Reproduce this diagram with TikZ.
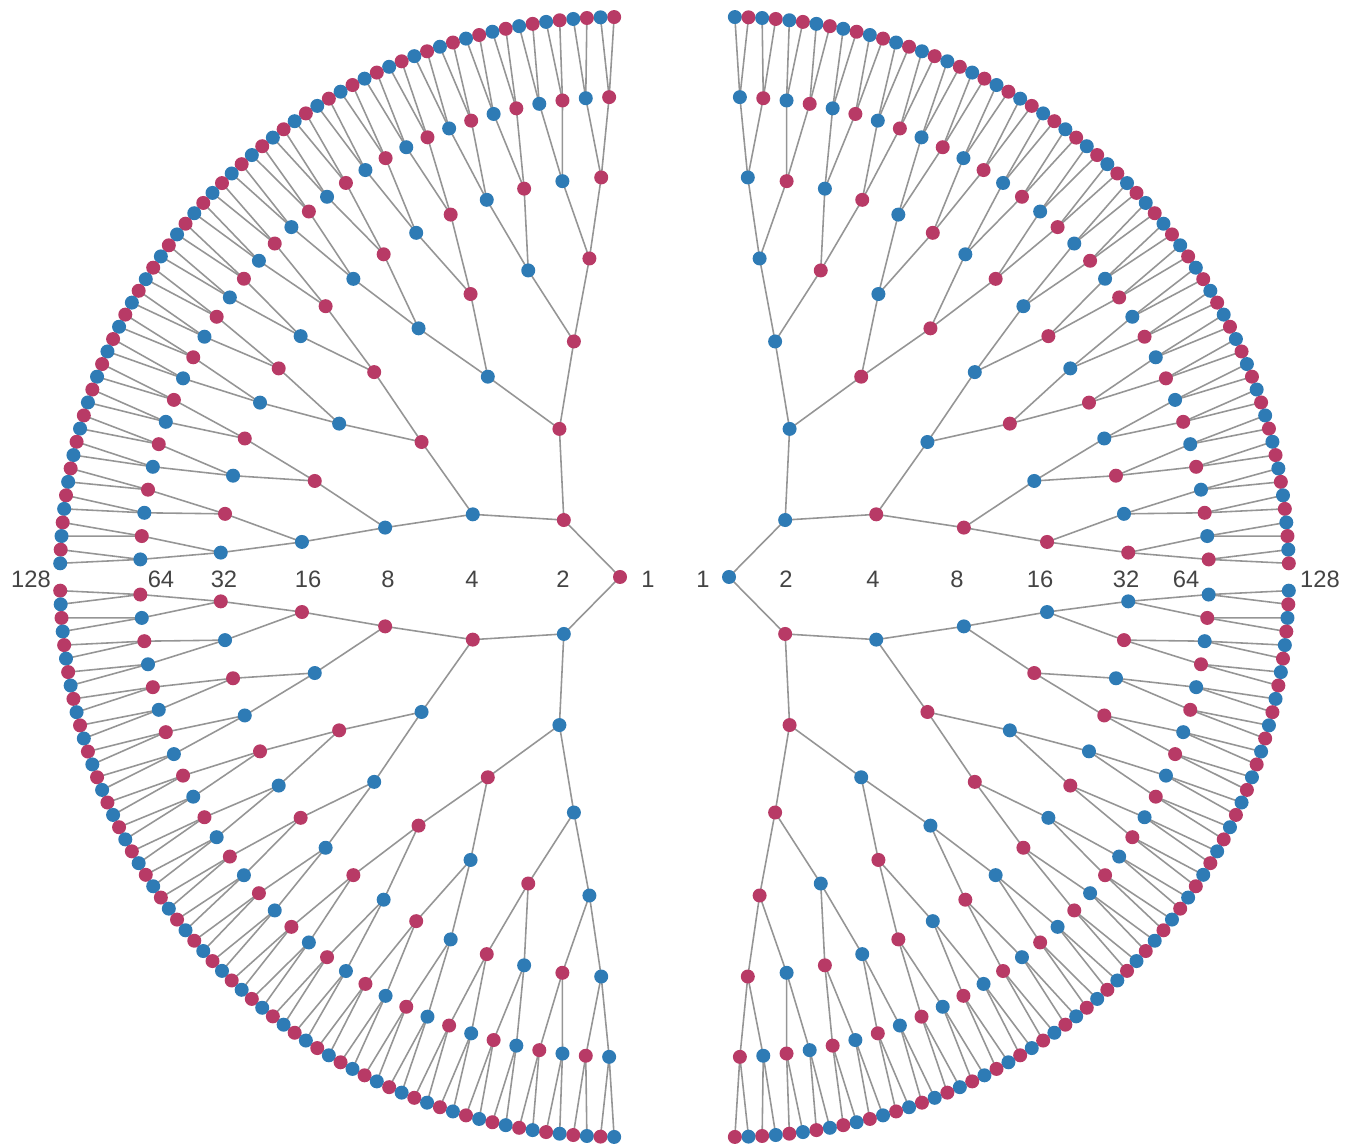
\documentclass[tikz,border=0pt]{standalone}
\usepackage{fontspec}
\setmainfont{Liberation Sans}
\usetikzlibrary{backgrounds}
\definecolor{nodered}{HTML}{B83A66}
\definecolor{nodeblue}{HTML}{2E7BB5}
\definecolor{edgegray}{HTML}{959595}
\definecolor{labelgray}{HTML}{444444}
\tikzset{
  dot/.style={circle, inner sep=0pt, minimum size=2.8mm},
  branch/.style={edgegray, line width=0.9pt},
  level label/.style={text=labelgray, font=\fontsize{13.5}{16}\selectfont}
}
\begin{document}
\begin{tikzpicture}[x=0.02cm, y=0.02cm]
  \useasboundingbox (0,0) rectangle (1345,1145);
  \pgfmathsetmacro\s{88/63}

  % Nodes of both trees (the right tree is the mirror image, colours swapped)
  \foreach \t/\cx/\sg/\ev/\od in {L/620/1/nodered/nodeblue, R/729/-1/nodeblue/nodered} {
    \foreach \d in {0,...,7} {
      \pgfmathtruncatemacro\n{2^\d-1}
      \pgfmathtruncatemacro\w{2^(7-\d)}
      \pgfmathtruncatemacro\r{80*\d}
      \foreach \i in {0,...,\n} {
        \pgfmathsetmacro\m{\i*\w+(\w-1)/2}
        \pgfmathsetmacro\a{\m<63.5 ? 90.6+\m*\s : 269.4-(127-\m)*\s}
        \pgfmathsetmacro\ang{90+\sg*(\a-90)}
        \pgfmathtruncatemacro\odd{mod(\i,2)}
        \ifnum\odd=0 \edef\col{\ev}\else\edef\col{\od}\fi
        \node[dot, fill=\col] (\t-\d-\i) at ([shift={(\cx,568)}]\ang:\r) {};
      }
    }
  }

  % Branches from parent to child
  \begin{pgfonlayer}{background}
    \foreach \t in {L,R} {
      \foreach \d in {1,...,7} {
        \pgfmathtruncatemacro\p{\d-1}
        \pgfmathtruncatemacro\n{2^\d-1}
        \foreach \i in {0,...,\n} {
          \pgfmathtruncatemacro\q{floor(\i/2)}
          \draw[branch] (\t-\p-\q.center) -- (\t-\d-\i.center);
        }
      }
    }
  \end{pgfonlayer}

  % Level sizes
  \foreach \x/\txt [count=\k] in {31/128, 161/64, 224/32, 308/16, 388/8, 472/4, 563/2, 648/1}
    \node[level label] (lab-L-\k) at (\x,566) {\txt};
  \foreach \x/\txt [count=\k] in {703/1, 786/2, 873/4, 957/8, 1040/16, 1126/32, 1186/64, 1320/128}
    \node[level label] (lab-R-\k) at (\x,566) {\txt};
\end{tikzpicture}
\end{document}
